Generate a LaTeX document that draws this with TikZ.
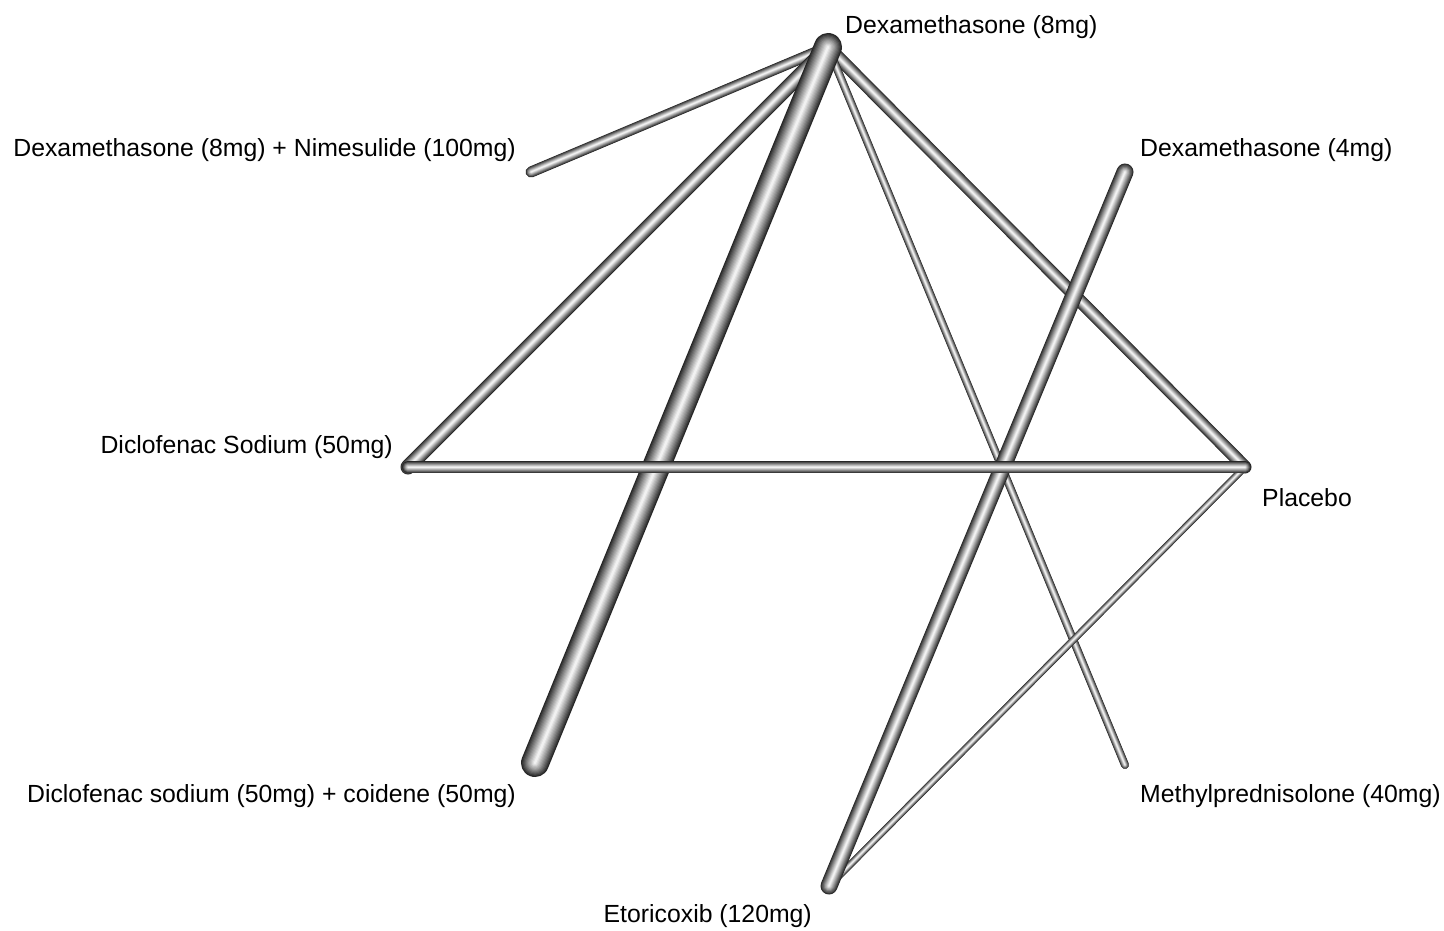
\documentclass[tikz,border=0pt]{standalone}
\usepackage{fontspec}
\setmainfont{Liberation Sans}
\newcommand{\tubeline}[3]{%
  \foreach \i in {0,...,11}{%
    \pgfmathsetmacro\ww{#3*(1-\i/12)}%
    \pgfmathsetmacro\cc{85*(1-\i/12)^1.1}%
    \draw[line width=\ww pt, line cap=round, color=black!\cc] (#1) -- (#2);
  }}
\tikzset{lab/.style={inner sep=0pt, font=\fontsize{24.8}{30}\selectfont, text=black}}
\begin{document}
\begin{tikzpicture}[x=1pt,y=-1pt]
\useasboundingbox (0,0) rectangle (1444,931);
\fill[white] (0,0) rectangle (1444,931);
\coordinate (d8) at (828,47);
\coordinate (dn) at (531,172);
\coordinate (d4) at (1125,172);
\coordinate (dc) at (408,467);
\coordinate (pl) at (1245,467);
\coordinate (dcc) at (535,763);
\coordinate (me) at (1125,765);
\coordinate (et) at (829,886);
\tubeline{d8}{dn}{11}
\tubeline{d8}{dc}{15}
\tubeline{d8}{pl}{13}
\tubeline{d8}{me}{8}
\tubeline{pl}{et}{7}
\tubeline{d8}{dcc}{28}
\tubeline{d4}{et}{17}
\tubeline{dc}{pl}{12}
\node[lab, anchor=base west] (ld8) at (845,34) {Dexamethasone (8mg)};
\node[lab, anchor=base east] (ldn) at (516,157) {Dexamethasone (8mg) + Nimesulide (100mg)};
\node[lab, anchor=base west] (ld4) at (1140,157) {Dexamethasone (4mg)};
\node[lab, anchor=base east] (ldc) at (393,453) {Diclofenac Sodium (50mg)};
\node[lab, anchor=base west] (lpl) at (1262,506) {Placebo};
\node[lab, anchor=base east] (ldcc) at (516,802) {Diclofenac sodium (50mg) + coidene (50mg)};
\node[lab, anchor=base west] (lme) at (1140,802) {Methylprednisolone (40mg)};
\node[lab, anchor=base east] (let) at (812,922) {Etoricoxib (120mg)};
\end{tikzpicture}
\end{document}
